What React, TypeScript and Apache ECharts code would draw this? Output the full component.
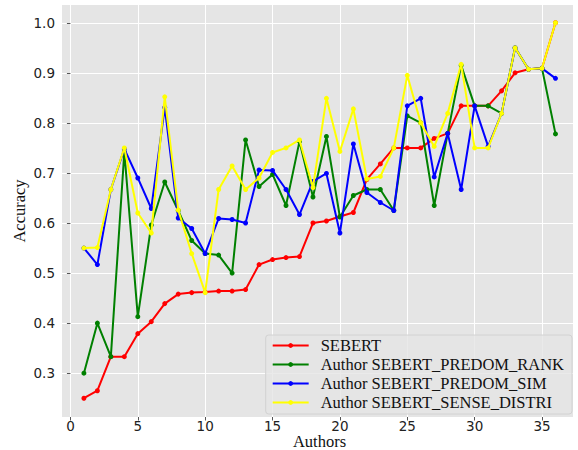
import React, { useEffect, useRef } from "react";
import * as echarts from "echarts";

const authors = [1, 2, 3, 4, 5, 6, 7, 8, 9, 10, 11, 12, 13, 14, 15, 16, 17, 18, 19, 20, 21, 22, 23, 24, 25, 26, 27, 28, 29, 30, 31, 32, 33, 34, 35, 36];

const sebert = [0.250, 0.265, 0.333, 0.333, 0.379, 0.403, 0.439, 0.458, 0.461, 0.462, 0.464, 0.464, 0.467, 0.517, 0.527, 0.531, 0.533, 0.600, 0.604, 0.613, 0.621, 0.687, 0.718, 0.750, 0.750, 0.750, 0.769, 0.779, 0.834, 0.834, 0.834, 0.864, 0.900, 0.907, 0.909, 1.000];

const predomRank = [0.300, 0.400, 0.333, 0.742, 0.413, 0.596, 0.682, 0.625, 0.565, 0.539, 0.536, 0.500, 0.766, 0.673, 0.697, 0.635, 0.763, 0.652, 0.773, 0.612, 0.655, 0.667, 0.667, 0.625, 0.814, 0.800, 0.635, 0.779, 0.915, 0.834, 0.834, 0.819, 0.950, 0.907, 0.909, 0.778];

const predomSim = [0.550, 0.517, 0.667, 0.748, 0.690, 0.629, 0.831, 0.610, 0.589, 0.539, 0.609, 0.607, 0.600, 0.706, 0.705, 0.667, 0.617, 0.683, 0.699, 0.580, 0.758, 0.661, 0.641, 0.625, 0.834, 0.849, 0.692, 0.779, 0.667, 0.834, 0.753, 0.819, 0.950, 0.907, 0.909, 0.889];

const senseDistri = [0.550, 0.551, 0.667, 0.750, 0.620, 0.580, 0.852, 0.626, 0.539, 0.461, 0.667, 0.714, 0.667, 0.690, 0.741, 0.750, 0.766, 0.671, 0.849, 0.743, 0.828, 0.688, 0.693, 0.750, 0.895, 0.800, 0.753, 0.819, 0.917, 0.750, 0.750, 0.819, 0.950, 0.907, 0.909, 1.000];

const seriesNames = ["SEBERT", "Author SEBERT_PREDOM_RANK", "Author SEBERT_PREDOM_SIM", "Author SEBERT_SENSE_DISTRI"];
const seriesColors = ["#ff0000", "#008000", "#0000ff", "#ffff00"];
const seriesValues = [sebert, predomRank, predomSim, senseDistri];

export default function App() {
  const ref = useRef<HTMLDivElement>(null);
  useEffect(() => {
    document.body.style.margin = "0";
    const chart = echarts.init(ref.current as HTMLDivElement, null, { renderer: "svg" });
    const series = seriesNames.map((name, k) => ({
      name,
      type: "line",
      data: authors.map((a, i) => [a, seriesValues[k][i]]),
      symbol: "circle",
      symbolSize: 5,
      showSymbol: true,
      lineStyle: { color: seriesColors[k], width: 2 },
      itemStyle: { color: seriesColors[k] },
      emphasis: { disabled: true },
      z: 2 + k,
    }));
    chart.setOption({
      animation: false,
      backgroundColor: "#ffffff",
      grid: {
        left: 61,
        right: 5,
        top: 4,
        bottom: 33,
        show: true,
        backgroundColor: "#e5e5e5",
        borderWidth: 0,
      },
      xAxis: {
        type: "value",
        min: -0.7,
        max: 37.3,
        splitNumber: 7,
        axisLine: { show: false },
        axisTick: { show: true, length: 3.5, lineStyle: { color: "#555555", width: 1 } },
        axisLabel: {
          showMinLabel: false,
          showMaxLabel: false,
          fontFamily: "DejaVu Sans",
          fontSize: 13.5,
          lineHeight: 13,
          color: "#222222",
          margin: 2,
        },
        splitLine: { show: true, lineStyle: { color: "#ffffff", width: 1 } },
      },
      yAxis: {
        type: "value",
        min: 0.2125,
        max: 1.0375,
        splitNumber: 8,
        axisLine: { show: false },
        axisTick: { show: true, length: 3.5, lineStyle: { color: "#555555", width: 1 } },
        axisLabel: {
          showMinLabel: false,
          showMaxLabel: false,
          fontFamily: "DejaVu Sans",
          fontSize: 13.5,
          color: "#222222",
          margin: 6,
          formatter: (v: number) => v.toFixed(1),
        },
        splitLine: { show: true, lineStyle: { color: "#ffffff", width: 1 } },
      },
      legend: {
        orient: "vertical",
        right: 6,
        bottom: 36,
        itemWidth: 36,
        itemHeight: 6,
        itemGap: 0,
        padding: [1, 8, 2, 6],
        backgroundColor: "rgba(229,229,229,0.8)",
        borderColor: "#d2d2d2",
        borderWidth: 1,
        borderRadius: 3,
        selectedMode: false,
        textStyle: {
          fontFamily: "Liberation Serif",
          fontSize: 16.5,
          color: "#111111",
          lineHeight: 19,
          padding: [0, 0, 0, 7],
        },
      },
      graphic: [
        {
          type: "text",
          x: 19.5,
          y: 211,
          rotation: Math.PI / 2,
          style: {
            text: "Accuracy",
            fontFamily: "Liberation Serif",
            fontSize: 16.5,
            fill: "#111111",
            align: "center",
            verticalAlign: "middle",
          },
        },
        {
          type: "text",
          x: 319.5,
          y: 441.5,
          style: {
            text: "Authors",
            fontFamily: "Liberation Serif",
            fontSize: 16.5,
            lineHeight: 15,
            fill: "#111111",
            align: "center",
            verticalAlign: "middle",
          },
        },
      ],
      series,
    });
    return () => chart.dispose();
  }, []);
  return <div ref={ref} style={{ position: "absolute", left: 0, top: 0, width: 578, height: 450 }} />;
}
